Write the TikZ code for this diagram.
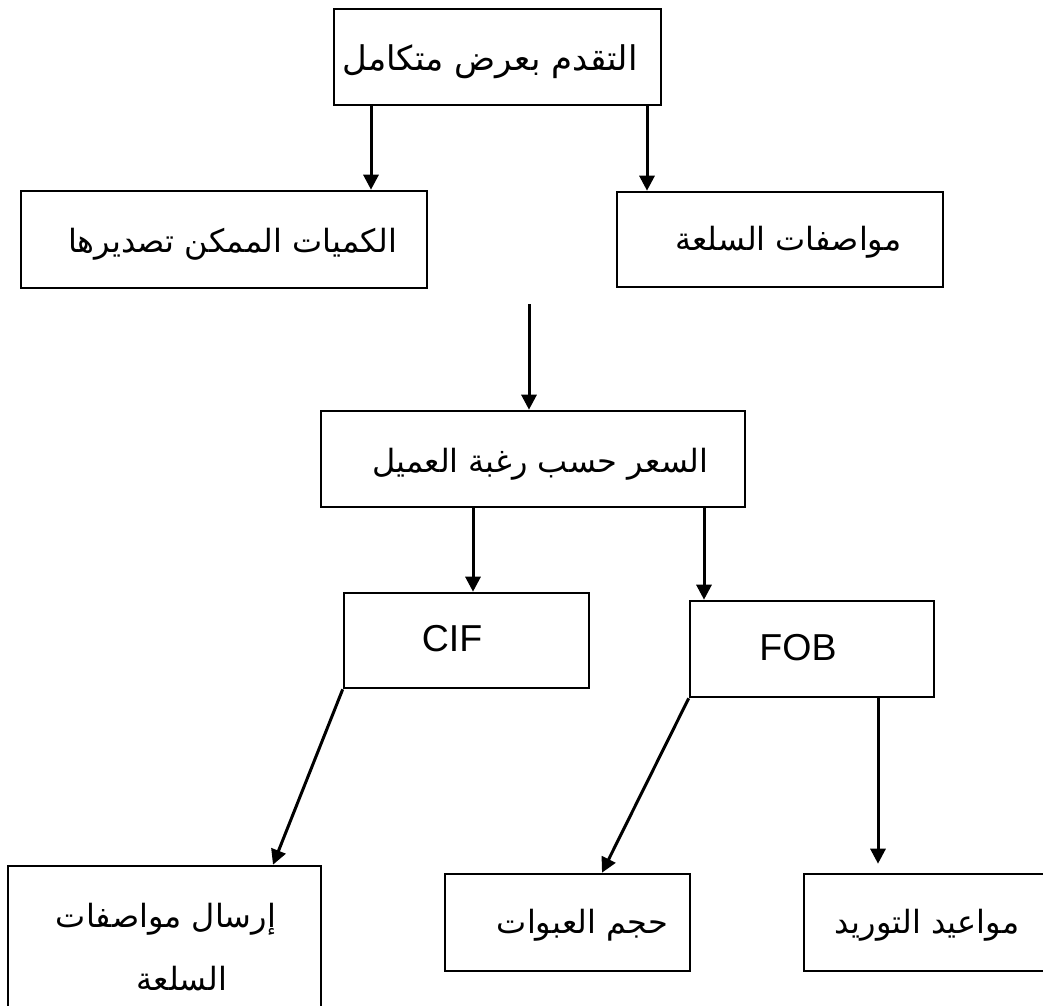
\documentclass[tikz,border=0pt]{standalone}
\usepackage{fontspec}
\setmainfont{Liberation Sans}
\newfontfamily\arabicfont[Script=Arabic]{DejaVu Sans}
\TeXXeTstate=1
\usetikzlibrary{arrows.meta}
\begin{document}
\begin{tikzpicture}[x=1pt,y=-1pt,
  box/.style={draw, line width=2.6pt, inner sep=0pt},
  arr/.style={line width=3pt, -{Triangle[length=15pt,width=15pt]}},
  ar/.style={font=\arabicfont\fontsize{32}{63}\selectfont, inner sep=0pt, anchor=base},
  la/.style={font=\fontsize{37.5}{40}\selectfont, inner sep=0pt, anchor=base}]
\useasboundingbox (0,0) rectangle (1043,1005);
% boxes
\node[box, minimum width=327pt, minimum height=96pt] (top) at (497.5,57) {};
\node[box, minimum width=406pt, minimum height=97pt] (qty) at (224,239.5) {};
\node[box, minimum width=326pt, minimum height=95pt] (spec) at (780,239.5) {};
\node[box, minimum width=424pt, minimum height=96pt] (price) at (533,459) {};
\node[box, minimum width=245pt, minimum height=95pt] (cif) at (466.5,640.5) {};
\node[box, minimum width=244pt, minimum height=96pt] (fob) at (812,649) {};
\node[box, minimum width=313pt, minimum height=150pt] (send) at (164.5,941) {};
\node[box, minimum width=245pt, minimum height=97pt] (pack) at (567.5,922.5) {};
\node[box, minimum width=246pt, minimum height=97pt] (dates) at (927,922.5) {};
% texts
\node[ar, font=\arabicfont\fontsize{34}{63}\selectfont] (ttop) at (490,70) {\beginR التقدم بعرض متكامل\endR};
\node[ar] (tqty) at (232.5,252) {\beginR الكميات الممكن تصديرها\endR};
\node[ar] (tspec) at (788.5,250) {\beginR مواصفات السلعة\endR};
\node[ar, anchor=base west] (tprice) at (372,472) {\beginR السعر حسب رغبة العميل\endR};
\node[la] (tcif) at (452,651) {CIF};
\node[la] (tfob) at (798,660) {FOB};
\node[ar] (tsend1) at (166,927) {\beginR إرسال مواصفات\endR};
\node[ar] (tsend2) at (182,990) {\beginR السلعة\endR};
\node[ar] (tpack) at (582.5,933) {\beginR حجم العبوات\endR};
\node[ar] (tdates) at (927,933) {\beginR مواعيد التوريد\endR};
% connectors
\coordinate (fa) at (529,304);
\draw[arr] ([xshift=-126.5pt]top.south) -- ([xshift=147pt]qty.north);
\draw[arr] ([xshift=149.5pt]top.south) -- ([xshift=-133pt]spec.north);
\draw[arr] (fa) -- ([xshift=-4pt]price.north);
\draw[arr] ([xshift=-60pt]price.south) -- ([xshift=6.5pt]cif.north);
\draw[arr] ([xshift=171pt]price.south) -- ([xshift=-108pt]fob.north);
\draw[arr] (cif.south west) -- ([xshift=108.5pt]send.north);
\draw[arr] (fob.south west) -- ([xshift=34.5pt]pack.north);
\draw[arr, shorten >=9pt] ([xshift=66pt]fob.south) -- ([xshift=-49pt]dates.north);
\end{tikzpicture}
\end{document}
